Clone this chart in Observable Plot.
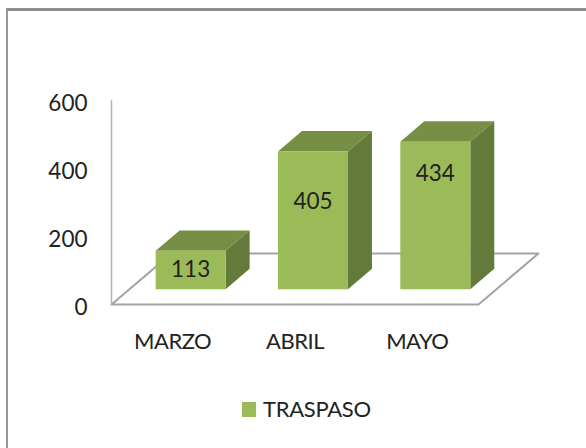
<!DOCTYPE html>
<html>
<head>
<meta charset="utf-8">
<script src="https://cdn.jsdelivr.net/npm/d3@7"></script>
<script src="https://cdn.jsdelivr.net/npm/@observablehq/plot@0.6"></script>
<style>
  html, body { margin: 0; padding: 0; background: #fff; }
  #chart { position: relative; width: 586px; height: 448px; overflow: hidden; font-family: Lato, sans-serif; color: #222; }
  #frame { position: absolute; left: 6px; top: 8px; width: 700px; height: 600px; border-left: 2px solid #999; border-top: 3px solid #8e8e8e; }
  #plot { position: absolute; left: 0; top: 0; }
  #plot svg { background: transparent; display: block; }
  #plot [aria-label="x-axis tick label"] text { letter-spacing: -0.5px; }
  #legend { position: absolute; left: 242px; top: 396px; display: flex; align-items: center; font-size: 22px; line-height: 26px; letter-spacing: -0.3px; }
  #legend i { width: 14px; height: 15px; background: #9bbb59; margin-right: 7px; display: block; }
</style>
</head>
<body>
<div id="chart"><div id="frame"></div><div id="plot"></div>
<div id="legend"><i></i><span id="legend-label"></span></div></div>
<script>
const months = ["MARZO", "ABRIL", "MAYO"];
const values = [113, 405, 434];
const seriesName = "TRASPASO";
const yTicks = [0, 200, 400, 600];

// Oblique projection of the 3-D chart: depth d in [0,1] shifts a point right and up.
const depthX = 0.49, depthY = 150;
const barFront = 0.3, barBack = 0.7, halfWidth = 0.286;
const labelHeight = [62, 262, 344]; // where each value label sits on the front face

const project = (c, v, d) => ({x: c + d * depthX, y: v + d * depthY});
const poly = (id, pts) => pts.map(([c, v, d]) => ({id, ...project(c, v, d)}));

const bars = months.map((m, i) => ({i, v: values[i], l: i - halfWidth, r: i + halfWidth}));
const front = bars.flatMap(b => poly(b.i, [[b.l, 0, barFront], [b.r, 0, barFront], [b.r, b.v, barFront], [b.l, b.v, barFront]]));
const side  = bars.flatMap(b => poly(b.i, [[b.r, 0, barFront], [b.r, 0, barBack], [b.r, b.v, barBack], [b.r, b.v, barFront]]));
const top_  = bars.flatMap(b => poly(b.i, [[b.l, b.v, barFront], [b.r, b.v, barFront], [b.r, b.v, barBack], [b.l, b.v, barBack]]));
const floor = poly("floor", [[-0.5, 0, 0], [2.5, 0, 0], [2.5, 0, 1], [-0.5, 0, 1], [-0.5, 0, 0]]);
const wall = poly("wall", [[-0.5, 0, 0], [-0.5, 600, 0]]);
const labels = months.map((m, i) => ({...project(i, labelHeight[i], barFront), t: String(values[i])}));

const plot = Plot.plot({
  width: 586, height: 392,
  marginLeft: 111, marginRight: 108, marginTop: 100, marginBottom: 88,
  x: {type: "linear", domain: [-0.5, 2.5]},
  y: {domain: [0, 600]},
  marks: [
    Plot.line(floor, {x: "x", y: "y", z: "id", stroke: "#a3a3a3", strokeWidth: 2}),
    Plot.line(wall, {x: "x", y: "y", z: "id", stroke: "#b4b4b4", strokeWidth: 1.5}),
    Plot.line(top_, {x: "x", y: "y", z: "id", fill: "#778f45", stroke: "none"}),
    Plot.line(side, {x: "x", y: "y", z: "id", fill: "#637a3b", stroke: "none"}),
    Plot.line(front, {x: "x", y: "y", z: "id", fill: "#9bbb59", stroke: "none"}),
    Plot.text(labels, {x: "x", y: "y", text: "t", fontSize: 22.5, dy: 2, fill: "#222", fontFamily: "Lato, sans-serif"}),
    Plot.axisY({ticks: yTicks, tickSize: 0, tickPadding: 24, label: null, fontSize: 22.5, dy: 3, fill: "#222", fontFamily: "Lato, sans-serif"}),
    Plot.axisX({ticks: [0, 1, 2], tickFormat: i => months[i], tickSize: 0, tickPadding: 29, label: null, fontSize: 22, fill: "#222", fontFamily: "Lato, sans-serif"})
  ]
});
document.getElementById("plot").appendChild(plot);
document.getElementById("legend-label").textContent = seriesName;
</script>
</body>
</html>
